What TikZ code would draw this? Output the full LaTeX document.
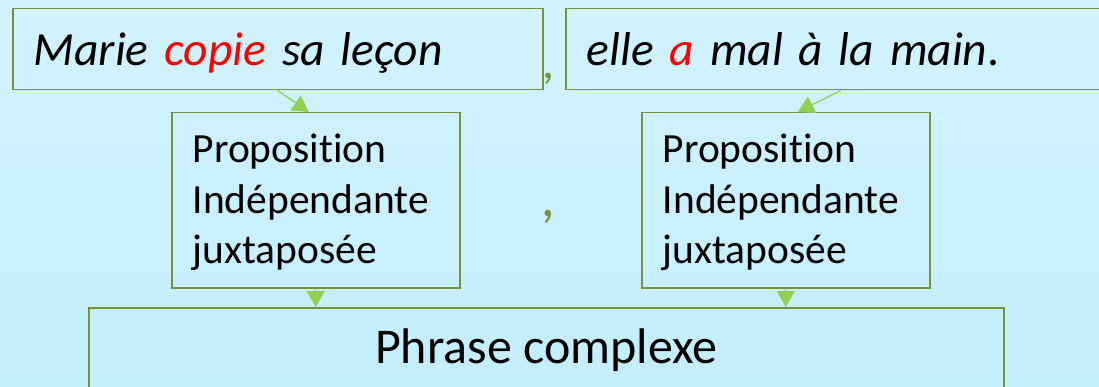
\documentclass[tikz,border=0pt]{standalone}
\usepackage{fontspec}
\setmainfont{Carlito}[Ligatures=NoCommon]
\usetikzlibrary{arrows.meta}

\definecolor{boxline}{RGB}{119,147,60}
\definecolor{linkgreen}{RGB}{146,208,80}
\definecolor{bgtop}{RGB}{210,243,254}
\definecolor{bgbottom}{RGB}{195,238,252}

\tikzset{
  sentence/.style={draw=boxline, line width=1.5pt, anchor=north west, inner xsep=21pt, inner ysep=0pt,
    align=left, text height=57pt, text depth=24pt, font=\fontsize{47.5}{56}\selectfont\itshape},
  propo/.style={draw=boxline, line width=1.5pt, anchor=north west, inner xsep=21pt, inner ysep=0pt,
    align=left, text width=246pt, text height=50pt, text depth=125pt, font=\fontsize{41.5}{50.5}\selectfont},
  phrase/.style={draw=boxline, line width=1.5pt, anchor=north west, inner ysep=0pt,
    minimum width=915pt, text height=56pt, text depth=40pt, font=\fontsize{50}{60}\selectfont},
  comma/.style={anchor=base, inner sep=0pt, text=boxline},
  link/.style={draw=linkgreen, line width=1.3pt, -{Triangle[width=18pt,length=16pt,fill=linkgreen]}}
}

\begin{document}
\begin{tikzpicture}[x=1pt, y=-1pt]
  \clip (0,0) rectangle (1099,387);
  \shade[top color=bgtop, bottom color=bgbottom] (0,0) rectangle (1099,387);

  \node[sentence, text width=488pt] (s1) at (12,8) {Marie \textcolor{red}{copie} sa leçon};
  \node[sentence, text width=508pt] (s2) at (565,8) {elle \textcolor{red}{a} mal à la main\textup{.}};
  \node[comma, font=\fontsize{47.5}{56}\selectfont\itshape] (c1) at (549,79) {,};

  \node[propo] (p1) at (171,112) {Proposition\\Indépendante\\juxtaposée};
  \node[propo] (p2) at (641,112) {Proposition\\Indépendante\\juxtaposée};
  \node[comma, font=\fontsize{55}{65}\selectfont\itshape] (c2) at (549,217) {,};

  \node[phrase] (ph) at (88,307) {Phrase complexe};

  \path
  (s1.south) edge[link] ([xshift=-7pt]p1.north)
  (s2.south) edge[link] ([xshift=12pt]p2.north)
  (p1.south) edge[link] (p1.south |- ph.north)
  (p2.south) edge[link] (p2.south |- ph.north)
  ;
\end{tikzpicture}
\end{document}
